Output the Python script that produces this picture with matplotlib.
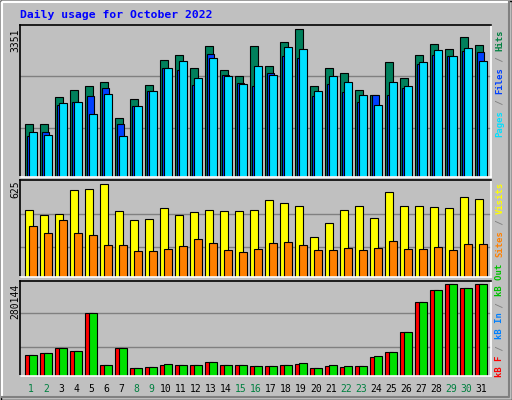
import matplotlib
matplotlib.use("Agg")
import matplotlib.pyplot as plt
from matplotlib.lines import Line2D
import numpy as np

days = list(range(1, 32))
weekend = [1, 2, 8, 9, 15, 16, 22, 23, 29, 30]
S = 3351 / 442.0
hits_px = [370,370,290,271,259,247,352,298,256,181,166,205,139,211,229,139,199,127,88,259,205,220,271,286,187,235,166,133,148,112,136]
files_px = [408,394,313,307,289,265,370,319,274,205,211,256,163,226,250,259,220,169,175,289,253,277,307,286,286,265,193,166,169,154,157]
pages_px = [394,403,310,304,340,283,406,319,274,205,184,235,175,229,253,199,226,142,148,274,229,247,286,313,247,259,187,151,169,145,184]
hits = [round((530 - v) * S) for v in hits_px]
files = [round((530 - v) * S) for v in files_px]
pages = [round((530 - v) * S) for v in pages_px]
V = 625 / 276.0
visits_px = [103,118,115,46,43,28,109,133,130,100,118,112,103,109,106,103,76,85,94,184,142,103,94,127,52,94,94,97,100,67,73]
sites_px = [151,172,133,172,178,208,208,226,226,220,211,190,202,223,229,220,202,199,208,223,223,217,223,217,196,220,220,214,223,205,205]
visits = [round((304 - v) * V) for v in visits_px]
sites = [round((304 - v) * V) for v in sites_px]
K = 280144 / 274.0
kbf_px = [538,532,517,526,415,568,517,577,574,568,568,568,559,568,568,571,571,568,565,577,571,574,571,544,529,469,382,346,328,340,328]
kbout_px = [538,532,517,526,415,568,517,577,574,565,568,568,559,568,568,571,571,568,562,577,568,571,571,541,529,469,382,346,328,340,328]
kbf = [round((602 - v) * K) for v in kbf_px]
kbout = [round((602 - v) * K) for v in kbout_px]

BG = "#C0C0C0"
fig = plt.figure(figsize=(5.12, 4.0), dpi=100, facecolor=BG)
W, H = 512, 400
x = np.arange(31)
MONO = "DejaVu Sans Mono"

def mkax(top, bottom):
    ax = fig.add_axes([20 / W, 1 - bottom / H, 471 / W, (bottom - top) / H])
    ax.set_facecolor(BG)
    ax.set_xlim((20 - 25.3) / 15, (491 - 25.3) / 15)
    ax.set_xticks([]); ax.set_yticks([])
    for s in ["left", "top"]:
        ax.spines[s].set_color("black")
    for s in ["right", "bottom"]:
        ax.spines[s].set_color("white")
    for sp in ax.spines.values():
        sp.set_linewidth(1.2)
    return ax

ew = 0.8
ax1 = mkax(25, 177)
ax1.set_ylim(0, 3449)
for g in (1123, 2282):
    ax1.axhline(g, color="#808080", lw=1, zorder=0)
ax1.bar(x, hits, width=0.49, align="edge", color="#00805C", edgecolor="black", lw=ew)
ax1.bar(x + 0.12, files, width=0.49, align="edge", color="#0040FF", edgecolor="black", lw=ew)
ax1.bar(x + 0.27, pages, width=0.49, align="edge", color="#00E0FF", edgecolor="black", lw=ew)

ax2 = mkax(180, 277)
ax2.set_ylim(0, 654)
for g in (204, 428):
    ax2.axhline(g, color="#808080", lw=1, zorder=0)
ax2.bar(x, visits, width=0.54, align="edge", color="#FFFF00", edgecolor="black", lw=ew)
ax2.bar(x + 0.27, sites, width=0.49, align="edge", color="#FF8000", edgecolor="black", lw=ew)

ax3 = mkax(281, 376)
ax3.set_ylim(0, 290362)
for g in (89971, 191189):
    ax3.axhline(g, color="#808080", lw=1, zorder=0)
ax3.bar(x, kbf, width=0.49, align="edge", color="#FF0000", edgecolor="black", lw=ew)
ax3.bar(x + 0.27, kbout, width=0.49, align="edge", color="#00E000", edgecolor="black", lw=ew)

for d in days:
    c = "#008040" if d in weekend else "black"
    fig.text((25.3 + 15 * (d - 1) + 5.8) / W, 1 - 389 / H, str(d), color=c,
             ha="center", va="center", family=MONO, fontsize=7)

fig.text(20 / W, 1 - 15 / H, "Daily usage for October 2022", color="#0000FF",
         family=MONO, fontweight="bold", fontsize=8.2, ha="left", va="center")

fig.text(15 / W, 1 - 28 / H, "3351", rotation=90, rotation_mode="anchor", ha="right", va="center", fontsize=7, family=MONO)
fig.text(15 / W, 1 - 180 / H, "625", rotation=90, rotation_mode="anchor", ha="right", va="center", fontsize=7, family=MONO)
fig.text(15 / W, 1 - 284 / H, "280144", rotation=90, rotation_mode="anchor", ha="right", va="center", fontsize=7, family=MONO)

CW = 5.37
def rlabel(ybottom, parts):
    pos = ybottom
    for txt, col in parts:
        fig.text(500 / W, 1 - pos / H, txt, color=col, rotation=90, rotation_mode="anchor",
                 ha="left", va="center", family=MONO, fontsize=6.4, fontweight="bold")
        pos -= CW * len(txt)

G = "#808080"
rlabel(137, [("Pages", "#00E0FF"), (" / ", G), ("Files", "#0040FF"), (" / ", G), ("Hits", "#008040")])
rlabel(257, [("Sites", "#FF8000"), (" / ", G), ("Visits", "#FFFF00")])
rlabel(377, [("kB F", "#FF0000"), (" / ", G), ("kB In", "#0080FF"), (" / ", G), ("kB Out", "#00C000")])

def fl(xs, ys, c, lw=1):
    fig.add_artist(Line2D([v / W for v in xs], [1 - v / H for v in ys], color=c, lw=lw))
fl([0.5, 511.5, 511.5, 0.5, 0.5], [0.5, 0.5, 399.5, 399.5, 0.5], "black")
fl([2, 2, 509], [397, 2, 2], "white", 1.5)
fl([2, 509, 509], [397, 397, 2], "#808080", 1.5)

fig.savefig("out.png", dpi=100, facecolor=BG)
